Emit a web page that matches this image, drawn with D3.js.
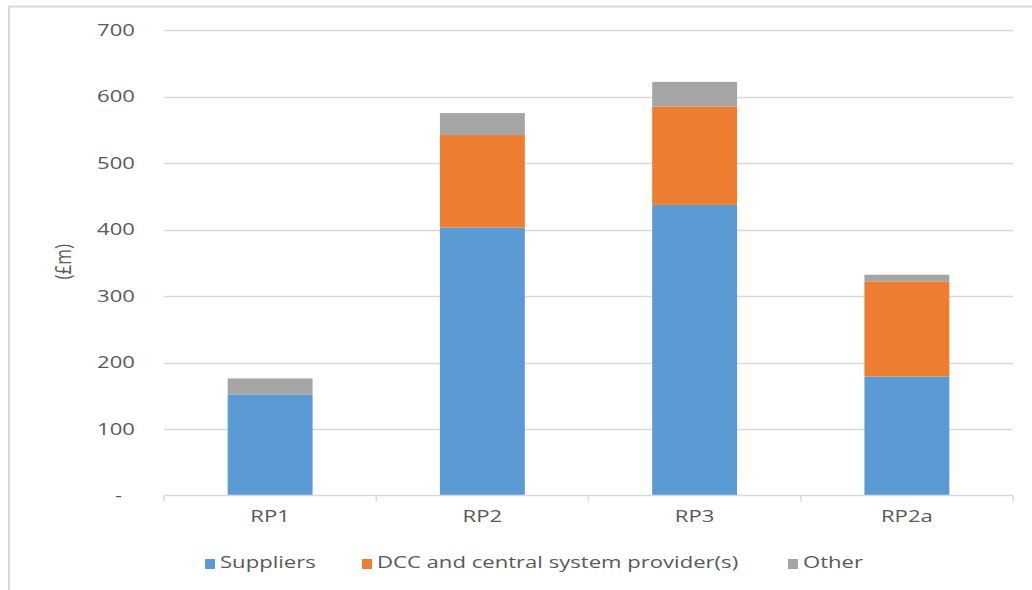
<!DOCTYPE html>
<html>
<head>
<meta charset="utf-8">
<script src="https://cdn.jsdelivr.net/npm/d3@7"></script>
<style>
  html, body { margin: 0; padding: 0; background: #fff; }
  svg { display: block; }
  text { font-family: "Open Sans", "Liberation Sans", sans-serif; fill: #595959; }
</style>
</head>
<body>
<svg id="chart" width="1032" height="590"></svg>
<script>
// Reporting periods and cost components (£m)
const categories = ["RP1", "RP2", "RP3", "RP2a"];
const seriesNames = ["Suppliers", "DCC and central system provider(s)", "Other"];
const suppliers = [152, 403, 437, 179];
const dcc = [0, 139, 148, 143];
const other = [24, 33, 37, 10];
const yTicks = [0, 100, 200, 300, 400, 500, 600, 700];
const yTickLabels = ["-", "100", "200", "300", "400", "500", "600", "700"];
const colors = ["#5b9bd5", "#ed7d31", "#a5a5a5"];

const FONT = "\"Open Sans\", sans-serif";
const FS = 17;          // label font size
const WIDEN = 1.3;      // horizontal widening of label glyphs

const rows = categories.map((c, i) => ({
  cat: c,
  "Suppliers": suppliers[i],
  "DCC and central system provider(s)": dcc[i],
  "Other": other[i]
}));

const svg = d3.select("#chart");

// Chart area frame
svg.append("rect")
  .attr("x", 9).attr("y", 6.5)
  .attr("width", 1040).attr("height", 600)
  .attr("fill", "none").attr("stroke", "#d9d9d9").attr("stroke-width", 2);

const plot = { left: 164, right: 1013, top: 30, bottom: 495.5 };

const x = d3.scaleBand()
  .domain(categories)
  .range([plot.left, plot.right])
  .paddingInner(0.6)
  .paddingOuter(0.3);

const y = d3.scaleLinear()
  .domain([0, 700])
  .range([plot.bottom, plot.top]);

// Horizontal gridlines
svg.append("g")
  .selectAll("line")
  .data(yTicks.filter(t => t > 0))
  .join("line")
  .attr("x1", plot.left).attr("x2", plot.right)
  .attr("y1", d => Math.round(y(d)) + 0.5).attr("y2", d => Math.round(y(d)) + 0.5)
  .attr("stroke", "#d9d9d9").attr("stroke-width", 1.5);

// Y axis labels
const yAxis = d3.axisLeft(y)
  .tickValues(yTicks)
  .tickFormat((d, i) => yTickLabels[i])
  .tickSize(0)
  .tickPadding(0);
const yg = svg.append("g")
  .attr("transform", `translate(135,0)`)
  .call(yAxis);
yg.select(".domain").remove();
yg.selectAll("text")
  .attr("font-size", FS)
  .style("font-family", FONT)
  .attr("fill", "#595959")
  .attr("x", d => d === 0 ? -10 : 0)
  .attr("transform", `scale(${WIDEN},1)`);

// Y axis title
svg.append("text")
  .attr("transform", `translate(71,${y(350) - 1}) rotate(-90) scale(1,${WIDEN})`)
  .attr("text-anchor", "middle")
  .attr("font-size", FS)
  .text("(£m)");

// Stacked bars
const stack = d3.stack().keys(seriesNames);
const layers = stack(rows);

svg.append("g")
  .selectAll("g")
  .data(layers)
  .join("g")
  .attr("fill", (d, i) => colors[i])
  .selectAll("rect")
  .data(d => d)
  .join("rect")
  .attr("x", d => x(d.data.cat))
  .attr("width", x.bandwidth())
  .attr("y", d => y(d[1]))
  .attr("height", d => y(d[0]) - y(d[1]));

// X axis with category separators
const xAxis = d3.axisBottom(x).tickSize(0).tickPadding(14);
const xg = svg.append("g")
  .attr("transform", `translate(0,${plot.bottom})`)
  .call(xAxis);
xg.select(".domain").remove();
xg.selectAll("text")
  .attr("font-size", FS)
  .style("font-family", FONT)
  .attr("fill", "#595959")
  .attr("transform", `scale(${WIDEN},1)`);

svg.append("line")
  .attr("x1", plot.left).attr("x2", plot.right)
  .attr("y1", plot.bottom).attr("y2", plot.bottom)
  .attr("stroke", "#d9d9d9").attr("stroke-width", 1.5);

const bounds = d3.range(categories.length + 1)
  .map(i => plot.left + i * (plot.right - plot.left) / categories.length);
svg.append("g")
  .selectAll("line")
  .data(bounds)
  .join("line")
  .attr("x1", d => d).attr("x2", d => d)
  .attr("y1", plot.bottom).attr("y2", plot.bottom + 6)
  .attr("stroke", "#d9d9d9").attr("stroke-width", 1.5);

// Legend
const legendItems = [
  { name: seriesNames[0], color: colors[0], x: 205 },
  { name: seriesNames[1], color: colors[1], x: 362 },
  { name: seriesNames[2], color: colors[2], x: 788 }
];
const lg = svg.append("g");
legendItems.forEach(it => {
  lg.append("rect")
    .attr("x", it.x).attr("y", 559)
    .attr("width", 10).attr("height", 10)
    .attr("fill", it.color);
  lg.append("text")
    .attr("transform", `translate(${it.x + 15},568) scale(${WIDEN},1)`)
    .attr("font-size", FS)
    .text(it.name);
});
</script>
</body>
</html>
